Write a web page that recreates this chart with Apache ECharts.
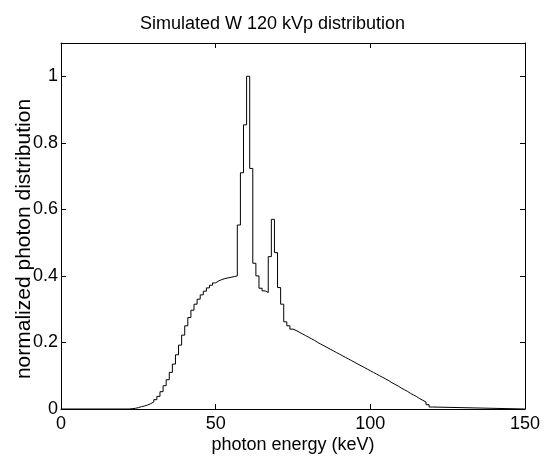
<!DOCTYPE html>
<html><head><meta charset="utf-8">
<script src="https://cdn.jsdelivr.net/npm/echarts@6/dist/echarts.min.js"></script>
<style>html,body{margin:0;padding:0;background:#fff}#c{width:545px;height:457px}</style>
</head><body><div id="c"></div>
<script>
// Left bin edges (keV) of the histogram steps
const energyKeV = [0,
  22,23,24,25,26,27,28,29,30,31,32,33,34,35,36,37,38,39,40,41,
  42,43,44,45,46,47,48,49,50,51,52,53,54,55,56,57,58,59,60,61,
  62,63,64,65,66,67,68,69,70,71,72,73,74,75,76,77,78,79,80,81,
  82,83,84,85,86,87,88,89,90,91,92,93,94,95,96,97,98,99,100,101,
  102,103,104,105,106,107,108,109,110,111,112,113,114,115,116,117,118,119,
  120,150];
// Normalized photon distribution per bin
const photonDist = [0,
  0.001,0.002,0.004,0.007,0.009,0.012,0.016,0.021,0.028,0.038,0.052,0.070,0.088,0.110,0.135,0.163,0.192,0.222,0.250,0.275,
  0.297,0.315,0.330,0.343,0.354,0.364,0.372,0.379,0.385,0.389,0.392,0.394,0.396,0.398,0.400,0.553,0.710,0.854,1.000,0.723,
  0.438,0.400,0.363,0.355,0.350,0.458,0.570,0.470,0.365,0.315,0.262,0.250,0.240,0.236,0.231,0.226,0.221,0.216,0.211,0.206,
  0.200,0.195,0.190,0.185,0.180,0.175,0.170,0.165,0.160,0.155,0.150,0.145,0.140,0.135,0.130,0.125,0.120,0.115,0.110,0.105,
  0.100,0.095,0.090,0.085,0.079,0.074,0.069,0.063,0.058,0.053,0.047,0.042,0.037,0.031,0.026,0.021,0.013,0.006,
  0,0];

const titleText = 'Simulated W 120 kVp distribution';
const xName = 'photon energy (keV)';
const yName = 'normalized photon distribution';

const FONT = '"Liberation Sans", Arial, Helvetica, sans-serif';
const black = '#000';

const chart = echarts.init(document.getElementById('c'), null, {renderer: 'canvas'});
const baseX = {
  type: 'value', min: 0, max: 150, interval: 50,
  axisLine: {show: true, onZero: false, lineStyle: {color: black, width: 1}},
  axisTick: {show: true, inside: true, length: 5, lineStyle: {color: black, width: 1}},
  splitLine: {show: false}
};
const baseY = {
  type: 'value', min: 0, max: 1.1, interval: 0.2,
  axisLine: {show: true, onZero: false, lineStyle: {color: black, width: 1}},
  axisTick: {show: true, inside: true, length: 5, lineStyle: {color: black, width: 1}},
  splitLine: {show: false}
};
chart.setOption({
  animation: false,
  backgroundColor: '#fff',
  title: {
    text: titleText, left: 'center', top: 10,
    textStyle: {fontFamily: FONT, fontSize: 18, fontWeight: 'normal', color: black}
  },
  grid: {left: 61, right: 20, top: 43, bottom: 48, containLabel: false, outerBoundsMode: 'none'},
  xAxis: [
    Object.assign({}, baseX, {
      position: 'bottom',
      name: xName, nameLocation: 'middle', nameGap: 27, nameMoveOverlap: false,
      nameTextStyle: {fontFamily: FONT, fontSize: 18, color: black},
      axisLabel: {show: true, margin: 6, fontFamily: FONT, fontSize: 18, color: black}
    }),
    Object.assign({}, baseX, {position: 'top', axisLabel: {show: false}})
  ],
  yAxis: [
    Object.assign({}, baseY, {
      position: 'left',
      name: yName, nameLocation: 'middle', nameGap: 26, nameMoveOverlap: false,
      nameTextStyle: {fontFamily: FONT, fontSize: 21, color: black, padding: [0, 26, 0, 0]},
      axisLabel: {show: true, margin: 3, showMaxLabel: false, fontFamily: FONT, fontSize: 18, color: black,
        formatter: v => String(Math.round(v * 10) / 10)}
    }),
    Object.assign({}, baseY, {position: 'right', axisLabel: {show: false}})
  ],
  series: [{
    type: 'line', step: 'end', xAxisIndex: 0, yAxisIndex: 0,
    symbol: 'none', silent: true,
    lineStyle: {color: black, width: 1},
    data: energyKeV.map((e, i) => [e, photonDist[i]])
  }]
});
</script>
</body></html>
